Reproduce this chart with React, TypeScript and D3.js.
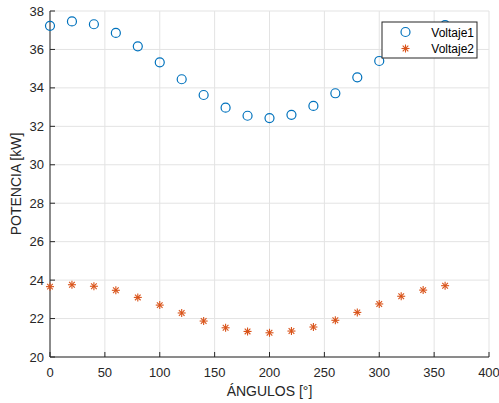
import React from "react";
import * as d3 from "d3";

// Ángulo (grados) y potencia (kW) para cada voltaje
const angulos = [0, 20, 40, 60, 80, 100, 120, 140, 160, 180, 200, 220, 240, 260, 280, 300, 320, 340, 360];
const voltaje1 = [37.23, 37.46, 37.31, 36.86, 36.16, 35.33, 34.45, 33.63, 32.97, 32.55, 32.43, 32.6, 33.06, 33.72, 34.55, 35.4, 36.2, 36.9, 37.27];
const voltaje2 = [23.66, 23.76, 23.68, 23.47, 23.1, 22.7, 22.29, 21.87, 21.52, 21.33, 21.26, 21.35, 21.56, 21.91, 22.32, 22.76, 23.16, 23.48, 23.71];

const xTicks = [0, 50, 100, 150, 200, 250, 300, 350, 400];
const yTicks = [20, 22, 24, 26, 28, 30, 32, 34, 36, 38];
const series = ["Voltaje1", "Voltaje2"];

const W = 499;
const H = 403;
const left = 50;
const right = 489;
const top = 11;
const bottom = 357;

const AXIS = "#262626";
const GRID = "#e3e3e3";
const BLUE = "#0072BD";
const ORANGE = "#D95319";
const FONT = "'Liberation Sans', Arial, Helvetica, sans-serif";

function Asterisk({ x, y, r, color }: { x: number; y: number; r: number; color: string }) {
  const d = r * Math.SQRT1_2;
  return (
    <g stroke={color} strokeWidth={1.1}>
      <line x1={x - r} y1={y} x2={x + r} y2={y} />
      <line x1={x} y1={y - r} x2={x} y2={y + r} />
      <line x1={x - d} y1={y - d} x2={x + d} y2={y + d} />
      <line x1={x - d} y1={y + d} x2={x + d} y2={y - d} />
    </g>
  );
}

export default function App() {
  const x = d3.scaleLinear().domain([0, 400]).range([left, right]);
  const y = d3.scaleLinear().domain([20, 38]).range([bottom, top]);

  const lx = 382, ly = 22, lw = 95, lh = 36;

  return (
    <svg
      width={W}
      height={H}
      style={{ position: "absolute", left: 0, top: 0, background: "#fff" }}
      fontFamily={FONT}
    >
      <rect x={0} y={0} width={W} height={H} fill="#fff" />
      {/* rejilla */}
      {xTicks.map((t) => (
        <line key={"gx" + t} x1={x(t)} x2={x(t)} y1={top} y2={bottom} stroke={GRID} strokeWidth={1} />
      ))}
      {yTicks.map((t) => (
        <line key={"gy" + t} x1={left} x2={right} y1={y(t)} y2={y(t)} stroke={GRID} strokeWidth={1} />
      ))}

      {/* ejes */}
      <line x1={left} x2={left} y1={top} y2={bottom} stroke={AXIS} strokeWidth={1} />
      <line x1={left} x2={right} y1={bottom} y2={bottom} stroke={AXIS} strokeWidth={1} />
      {xTicks.map((t) => (
        <g key={"tx" + t}>
          <line x1={x(t)} x2={x(t)} y1={bottom} y2={bottom - 5} stroke={AXIS} />
          <text x={x(t)} y={377} textAnchor="middle" fontSize={13} fill={AXIS}>
            {t}
          </text>
        </g>
      ))}
      {yTicks.map((t) => (
        <g key={"ty" + t}>
          <line x1={left} x2={left + 5} y1={y(t)} y2={y(t)} stroke={AXIS} />
          <text x={44} y={y(t) + 4.6} textAnchor="end" fontSize={13} fill={AXIS}>
            {t}
          </text>
        </g>
      ))}

      <text x={(left + right) / 2} y={396} textAnchor="middle" fontSize={14} fill={AXIS}>
        ÁNGULOS [°]
      </text>
      <text
        transform={`translate(21, ${(top + bottom) / 2}) rotate(-90)`}
        textAnchor="middle"
        fontSize={14}
        fill={AXIS}
      >
        POTENCIA [kW]
      </text>

      {/* Voltaje1 */}
      {angulos.map((a, i) => (
        <circle key={"v1" + i} cx={x(a)} cy={y(voltaje1[i])} r={4.5} fill="none" stroke={BLUE} strokeWidth={1.2} />
      ))}
      {/* Voltaje2 */}
      {angulos.map((a, i) => (
        <Asterisk key={"v2" + i} x={x(a)} y={y(voltaje2[i])} r={4} color={ORANGE} />
      ))}

      {/* leyenda */}
      <rect x={lx} y={ly} width={lw} height={lh} fill="#fff" stroke={AXIS} strokeWidth={1} />
      <circle cx={405.5} cy={ly + 10} r={4.5} fill="none" stroke={BLUE} strokeWidth={1.2} />
      <Asterisk x={405.5} y={ly + 26.5} r={4} color={ORANGE} />
      <text x={474} y={ly + 14.5} textAnchor="end" fontSize={12} fill="#000">
        {series[0]}
      </text>
      <text x={474} y={ly + 31} textAnchor="end" fontSize={12} fill="#000">
        {series[1]}
      </text>
    </svg>
  );
}
